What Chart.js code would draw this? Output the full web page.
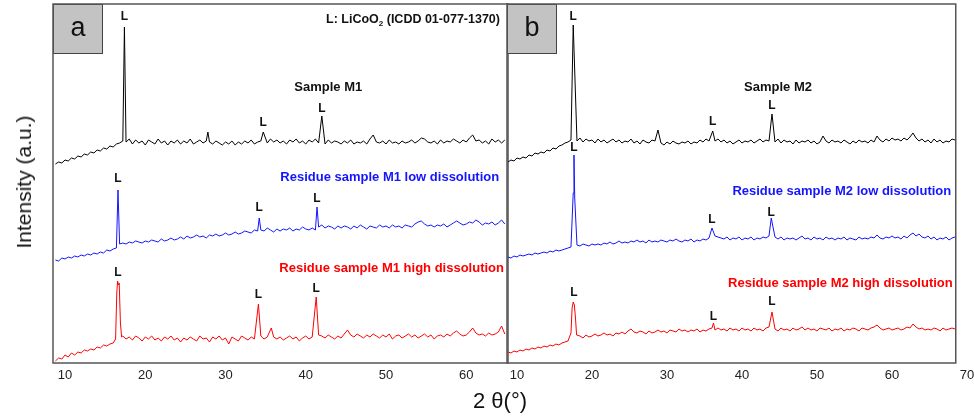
<!DOCTYPE html>
<html>
<head>
<meta charset="utf-8">
<script src="https://cdn.jsdelivr.net/npm/chart.js@4.4.1/dist/chart.umd.min.js"></script>
<style>
  body { margin: 0; background: #fff; width: 974px; height: 419px; overflow: hidden; position: relative;
         font-family: Arial, "Liberation Sans", sans-serif; }
  canvas { position: absolute; left: 0; top: 0; }
  #ytitle { position: absolute; left: 24px; top: 182px; transform: translate(-50%, -50%) rotate(-90deg);
            font-size: 21px; white-space: nowrap; color: #111; }
  #xtitle { position: absolute; left: 500px; top: 401px; transform: translate(-50%, -50%);
            font-size: 22px; white-space: nowrap; color: #111; }
</style>
</head>
<body>
<canvas id="chartA" width="974" height="419"></canvas>
<canvas id="chartB" width="974" height="419"></canvas>
<div id="ytitle">Intensity (a.u.)</div>
<div id="xtitle">2 θ(°)</div>

<script>
// scan parameters (2θ of first point, step in degrees)
const scanStart = 8.8;
const scanStep = 0.4;

const ticksA = [10, 20, 30, 40, 50, 60];
const ticksB = [10, 20, 30, 40, 50, 60, 70];

// ---- panel a : sample M1 (intensity in a.u., stacked) ----
const sampleM1 = [
  199, 201, 200, 203, 202, 205, 204, 207, 206, 209,
  208, 211, 210, 213, 212, 215, 214, 217, 216, 219,
  220, 222, 221, 224, 219, 223, 220, 222, 218, 223,
  221, 219, 224, 220, 222, 218, 222, 220, 223, 219,
  222, 220, 224, 219, 221, 223, 220, 222, 221, 219,
  222, 220, 218, 221, 219, 222, 218, 221, 219, 222,
  220, 223, 219, 221, 222, 223, 220, 224, 221, 223,
  220, 222, 219, 223, 221, 224, 220, 222, 219, 223,
  221, 224, 220, 222, 219, 223, 220, 222, 221, 219,
  222, 220, 223, 219, 221, 220, 222, 219, 224, 228,
  221, 220, 222, 219, 223, 220, 221, 219, 222, 220,
  221, 223, 220, 222, 225, 224, 221, 220, 222, 219,
  223, 220, 222, 221, 224, 222, 220, 223, 221, 225,
  228, 222, 223, 220, 222, 219, 224, 221, 223, 220,
  223
];
const peaksSampleM1 = [[17.4, 336], [27.8, 231], [34.7, 231], [42.0, 247]];

const lowM1 = [
  103, 102, 105, 104, 106, 105, 107, 106, 108, 107,
  109, 108, 110, 109, 111, 110, 113, 112, 114, 115,
  119, 120, 119, 121, 120, 122, 121, 120, 122, 121,
  123, 122, 121, 124, 122, 123, 125, 123, 124, 126,
  124, 127, 125, 126, 128, 126, 127, 125, 128, 127,
  129, 127, 128, 130, 128, 129, 131, 129, 130, 132,
  131, 130, 133, 132, 133, 132, 135, 133, 131, 134,
  132, 134, 133, 135, 132, 134, 133, 136, 134, 133,
  135, 133, 136, 138, 135, 137, 136, 134, 137, 135,
  137, 136, 134, 137, 135, 138, 136, 134, 137, 136,
  135, 138, 136, 137, 135, 138, 136, 137, 135, 138,
  137, 136, 139, 141, 142, 139, 137, 138, 136, 138,
  137, 139, 136, 138, 140, 142, 140, 138, 139, 141,
  140, 143, 141, 138, 140, 139, 141, 138, 140, 143,
  139
];
const peaksLowM1 = [[16.6, 173], [34.2, 145], [41.4, 156]];

const highM1 = [
  2, 5, 4, 8, 6, 10, 8, 11, 10, 13,
  12, 14, 13, 16, 15, 18, 17, 19, 20, 22,
  25, 27, 24, 26, 23, 27, 25, 22, 26, 24,
  27, 23, 25, 22, 26, 24, 27, 23, 25, 21,
  25, 23, 26, 24, 22, 27, 24, 25, 21, 26,
  24, 27, 23, 25, 19, 26, 24, 22, 27, 25,
  23, 26, 24, 25, 27, 24, 26, 25, 26, 24,
  26, 23, 25, 27, 24, 26, 22, 25, 27, 24,
  26, 25, 28, 27, 25, 28, 26, 24, 27, 25,
  29, 33, 28, 26, 29, 27, 25, 28, 26, 29,
  27, 25, 28, 26, 29, 24, 27, 28, 25, 27,
  29, 26, 28, 25, 27, 29, 26, 28, 24, 27,
  28, 26, 29, 27, 30, 32, 29, 27, 28, 31,
  35, 30, 28, 29, 27, 30, 28, 29, 31, 37,
  29
];
const peaksHighM1 = [[16.3, 24], [16.45, 70], [16.55, 82], [16.65, 78], [16.75, 80], [16.9, 40], [17.05, 26],
                     [34.1, 59], [35.7, 35], [41.3, 66]];

// ---- panel b : sample M2 ----
const sampleM2 = [
  201, 203, 202, 205, 204, 206, 205, 208, 207, 210,
  209, 211, 210, 213, 212, 215, 214, 217, 218, 220,
  221, 223, 224, 222, 225, 221, 224, 222, 223, 220,
  224, 221, 223, 220, 222, 224, 221, 223, 220, 222,
  221, 224, 220, 222, 219, 223, 221, 220, 223, 222,
  222, 220, 218, 221, 219, 222, 220, 219, 221, 220,
  222, 219, 221, 220, 223, 221, 224, 222, 225, 222,
  224, 221, 223, 220, 222, 219, 221, 223, 220, 222,
  221, 223, 220, 222, 224, 221, 223, 222, 224, 221,
  224, 220, 223, 221, 222, 219, 223, 220, 222, 221,
  223, 220, 222, 219, 221, 227, 222, 220, 223, 221,
  222, 220, 223, 221, 219, 222, 220, 223, 221, 222,
  220, 223, 221, 227, 223, 221, 224, 222, 225, 223,
  224, 222, 225, 223, 226, 230, 225, 222, 224, 221,
  223, 220, 224, 221, 223, 220, 222, 221, 224, 223
];
const peaksSampleM2 = [[17.5, 338], [28.8, 233], [36.1, 232], [44.0, 249]];

const lowM2 = [
  106, 105, 107, 106, 108, 107, 108, 109, 108, 110,
  109, 110, 111, 110, 112, 111, 113, 112, 113, 114,
  115, 116, 117, 118, 117, 119, 118, 117, 119, 118,
  119, 118, 120, 119, 121, 119, 120, 122, 120, 121,
  120, 122, 121, 123, 121, 122, 120, 123, 121, 122,
  121, 123, 122, 121, 123, 122, 124, 122, 121, 123,
  122, 124, 121, 123, 122, 124, 123, 125, 126, 127,
  126, 125, 124, 126, 123, 125, 124, 126, 123, 125,
  124, 126, 123, 125, 124, 126, 125, 127, 128, 126,
  124, 126, 123, 125, 124, 125, 123, 125, 127, 124,
  125, 123, 126, 124, 125, 123, 126, 124, 125, 123,
  125, 124, 126, 123, 125, 124, 123, 126, 124, 125,
  124, 126, 125, 128, 125, 124, 126, 125, 127, 125,
  126, 124, 127, 125, 128, 130, 127, 129, 126, 125,
  127, 124, 126, 123, 125, 124, 126, 123, 125, 126
];
const peaksLowM2 = [[17.5, 170], [17.6, 208], [17.7, 165], [36.0, 135], [43.9, 145]];

const highM2 = [
  11, 10, 12, 11, 13, 12, 14, 13, 15, 14,
  16, 15, 17, 16, 18, 17, 19, 18, 20, 21,
  22, 30, 50, 26, 27, 25, 28, 26, 27, 29,
  27, 28, 30, 28, 29, 27, 30, 29, 31, 29,
  32, 34, 31, 30, 32, 31, 29, 32, 30, 31,
  33, 31, 32, 30, 33, 32, 31, 34, 32, 33,
  31, 33, 32, 34, 31, 33, 32, 34, 35, 33,
  35, 33, 34, 32, 35, 33, 34, 32, 35, 33,
  34, 32, 35, 33, 34, 32, 35, 36, 38, 34,
  32, 35, 33, 34, 32, 35, 33, 34, 36, 33,
  35, 33, 34, 32, 35, 34, 33, 35, 32, 34,
  33, 35, 32, 34, 33, 35, 34, 32, 35, 34,
  33, 35, 36, 38, 35, 33, 34, 35, 33, 34,
  35, 33, 34, 36, 35, 39, 36, 34, 35, 33,
  34, 33, 35, 34, 32, 35, 33, 34, 35, 34
];
const peaksHighM2 = [[17.2, 30], [17.35, 55], [17.5, 61], [17.65, 58], [17.8, 45], [17.95, 28],
                     [36.2, 40], [44.0, 51]];

// "L" marks (2θ, height) above the LiCoO2 reflections
const lMarksA = [[17.4, 346], [34.7, 240], [42.0, 254], [16.6, 184], [34.2, 155], [41.4, 164],
                 [16.6, 90], [34.1, 68], [41.3, 74]];
const lMarksB = [[17.5, 346], [36.1, 241], [44.0, 257], [17.6, 215], [36.0, 143], [43.9, 150],
                 [17.6, 70], [36.2, 46], [44.0, 61]];

// merge the coarse scan with the sharper peak points
function mergeScan(values, peaks) {
  const pts = [];
  values.forEach((v, i) => {
    const x = +(scanStart + i * scanStep).toFixed(2);
    if (!peaks.some(p => Math.abs(p[0] - x) < 0.12)) pts.push({ x: x, y: v });
  });
  peaks.forEach(p => pts.push({ x: p[0], y: p[1] }));
  return pts.sort((a, b) => a.x - b.x);
}

function drawLiCoO2(ctx, right, y) {
  const big = 'bold 12.5px Arial, "Liberation Sans", sans-serif';
  const small = 'bold 8px Arial, "Liberation Sans", sans-serif';
  const p1 = 'L: LiCoO', p3 = ' (ICDD 01-077-1370)';
  ctx.font = big;
  const w1 = ctx.measureText(p1).width, w3 = ctx.measureText(p3).width;
  ctx.font = small;
  const w2 = ctx.measureText('2').width;
  const x = right - (w1 + w2 + w3);
  ctx.textAlign = 'left';
  ctx.font = big;
  ctx.fillText(p1, x, y);
  ctx.font = small;
  ctx.fillText('2', x + w1, y + 4);
  ctx.font = big;
  ctx.fillText(p3, x + w1 + w2, y);
}

const panelDecor = {
  id: 'panelDecor',
  afterDatasetsDraw(chart, args, opts) {
    const { ctx, chartArea } = chart;
    const x = chart.scales.x, y = chart.scales.y;
    const left = chartArea.left, top = chartArea.top, bottom = chartArea.bottom;
    const right = x.getPixelForValue(opts.frameMax);
    ctx.save();
    // letter box
    ctx.fillStyle = '#c3c3c3';
    ctx.fillRect(left, top, 49, 49);
    ctx.strokeStyle = '#444';
    ctx.lineWidth = 1;
    ctx.strokeRect(left + 0.5, top + 0.5, 49, 49);
    ctx.fillStyle = '#111';
    ctx.font = '27px Arial, "Liberation Sans", sans-serif';
    ctx.textAlign = 'center';
    ctx.textBaseline = 'middle';
    ctx.fillText(opts.letter, left + 25, top + 25);
    // frame
    ctx.strokeStyle = '#555';
    ctx.lineWidth = 1.5;
    ctx.strokeRect(left, top, right - left, bottom - top);
    // L marks
    ctx.fillStyle = '#111';
    ctx.font = 'bold 12px Arial, "Liberation Sans", sans-serif';
    opts.marks.forEach(m => ctx.fillText('L', x.getPixelForValue(m[0]), y.getPixelForValue(m[1])));
    // sample notes
    ctx.font = 'bold 13px Arial, "Liberation Sans", sans-serif';
    opts.notes.forEach(n => {
      ctx.fillStyle = n.color;
      ctx.textAlign = n.align;
      ctx.fillText(n.text, x.getPixelForValue(n.x), y.getPixelForValue(n.y));
    });
    if (opts.legendNote) {
      ctx.fillStyle = '#111';
      drawLiCoO2(ctx, x.getPixelForValue(opts.legendNote[0]), y.getPixelForValue(opts.legendNote[1]));
    }
    ctx.restore();
  }
};

function makePanel(id, series, xMin, xMax, ticks, pad, decor) {
  const ctx = document.getElementById(id).getContext('2d');
  return new Chart(ctx, {
    type: 'line',
    data: {
      datasets: series.map(s => ({
        data: s.data,
        borderColor: s.color,
        borderWidth: 1,
        pointRadius: 0,
        tension: 0,
        fill: false
      }))
    },
    options: {
      responsive: false,
      animation: false,
      layout: { padding: pad },
      plugins: { legend: { display: false }, tooltip: { enabled: false }, panelDecor: decor },
      scales: {
        x: {
          type: 'linear',
          min: xMin,
          max: xMax,
          afterFit(scale) { scale.height = 56; scale.paddingRight = 0; scale.paddingLeft = 0; },
          afterBuildTicks(scale) { scale.ticks = ticks.map(v => ({ value: v })); },
          grid: { display: false, drawTicks: false },
          border: { display: false },
          ticks: {
            padding: 5,
            maxRotation: 0,
            autoSkip: false,
            includeBounds: false,
            color: '#222',
            font: { family: 'Arial, "Liberation Sans", sans-serif', size: 13 }
          }
        },
        y: { display: false, min: 0, max: 359 }
      }
    },
    plugins: [panelDecor]
  });
}

makePanel('chartA', [
  { data: mergeScan(sampleM1, peaksSampleM1), color: '#000000' },
  { data: mergeScan(lowM1, peaksLowM1), color: '#1414ff' },
  { data: mergeScan(highM1, peaksHighM1), color: '#ff0000' }
], 8.5, 65.2, ticksA, { left: 53, right: 466, top: 4, bottom: 0 }, {
  letter: 'a',
  frameMax: 65.2,
  marks: lMarksA,
  legendNote: [64.2, 343],
  notes: [
    { text: 'Sample M1', x: 42.8, y: 276, align: 'center', color: '#111' },
    { text: 'Residue sample M1 low dissolution', x: 64.1, y: 186, align: 'right', color: '#1414ff' },
    { text: 'Residue sample M1 high dissolution', x: 64.7, y: 95, align: 'right', color: '#ff0000' }
  ]
});

makePanel('chartB', [
  { data: mergeScan(sampleM2, peaksSampleM2), color: '#000000' },
  { data: mergeScan(lowM2, peaksLowM2), color: '#1414ff' },
  { data: mergeScan(highM2, peaksHighM2), color: '#ff0000' }
], 8.67, 70, ticksB, { left: 507, right: 7, top: 4, bottom: 0 }, {
  letter: 'b',
  frameMax: 68.5,
  marks: lMarksB,
  notes: [
    { text: 'Sample M2', x: 44.8, y: 276, align: 'center', color: '#111' },
    { text: 'Residue sample M2 low dissolution', x: 67.9, y: 172, align: 'right', color: '#1414ff' },
    { text: 'Residue sample M2 high dissolution', x: 68.1, y: 80, align: 'right', color: '#ff0000' }
  ]
});
</script>
</body>
</html>
